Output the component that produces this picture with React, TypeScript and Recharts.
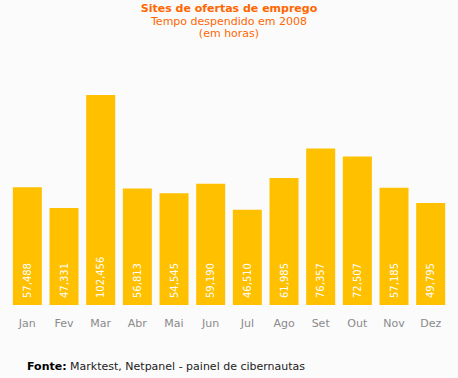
import {BarChart, Bar, XAxis, YAxis, LabelList} from "recharts";

const months = ["Jan", "Fev", "Mar", "Abr", "Mai", "Jun", "Jul", "Ago", "Set", "Out", "Nov", "Dez"];
const hours = [57488, 47331, 102456, 56813, 54545, 59190, 46510, 61985, 76357, 72507, 57185, 49795];

const data = months.map((m, i) => ({month: m, hours: hours[i]}));

const fmt = (v: number) => v.toLocaleString("en-US");

const VerticalLabel = (props: any) => {
    const {x, y, width, height, value} = props;
    const cx = x + width / 2;
    const by = y + height - 7;
    return (
        <text x={cx} y={by} transform={`rotate(-90 ${cx} ${by})`} fill="#ffffff"
              fontSize={10} fontFamily="DejaVu Sans" textAnchor="start" dominantBaseline="central">
            {fmt(value)}
        </text>
    );
};

const App = () => {
    return (
        <div style={{position: "absolute", left: 0, top: 0, width: 458, height: 378, background: "#fbfbfb", fontFamily: "DejaVu Sans"}}>
            <div style={{position: "absolute", top: 3, left: 0, width: 458, textAlign: "center", color: "#ff6600", fontSize: 11, lineHeight: "12.5px"}}>
                <div style={{fontWeight: "bold"}}>Sites de ofertas de emprego</div>
                <div>Tempo despendido em 2008</div>
                <div>(em horas)</div>
            </div>
            <BarChart width={458} height={378} data={data} margin={{top: 95, right: 9, bottom: 0, left: 9}} barCategoryGap={"10.5%"}>
                <XAxis dataKey={"month"} axisLine={false} tickLine={false} tickSize={0} tickMargin={14} height={73}
                       tick={{fill: "#8a8a8a", fontSize: 11, fontFamily: "DejaVu Sans"}} interval={0}/>
                <YAxis hide domain={[0, "dataMax"]}/>
                <Bar dataKey={"hours"} fill={"#ffc000"} isAnimationActive={false}>
                    <LabelList dataKey={"hours"} content={VerticalLabel}/>
                </Bar>
            </BarChart>
            <div style={{position: "absolute", left: 27, top: 360, fontSize: 11, color: "#222"}}>
                <b style={{color: "#000"}}>Fonte:</b> Marktest, Netpanel - painel de cibernautas
            </div>
        </div>
    );
};

export default App;
